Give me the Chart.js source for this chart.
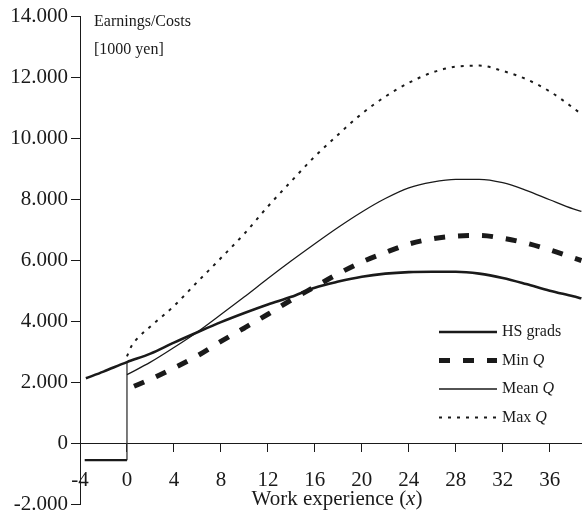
<!DOCTYPE html>
<html>
<head>
<meta charset="utf-8">
<script src="https://cdn.jsdelivr.net/npm/chart.js@4"></script>
<style>
  html, body { margin: 0; padding: 0; background: #fff; }
  #wrap { width: 582px; height: 520px; position: relative; }
</style>
</head>
<body>
<div id="wrap"><canvas id="chart"></canvas></div>
<script>
const SERIF = '"Liberation Serif", "Times New Roman", serif';
const INK = "#1a1a1a";

// Values (earnings in 1000 yen, x = years of work experience)
const hsYears = [-3.5, -2, 0, 2, 4, 6, 8, 10, 12, 14, 16, 18, 20, 22, 24, 26, 28, 30, 32, 34, 36, 38, 38.7];
const hsEarnings = [2130, 2350, 2660, 2940, 3300, 3640, 3970, 4270, 4550, 4800, 5100, 5300, 5460, 5560, 5610, 5620, 5620, 5560, 5420, 5220, 5000, 4820, 4750];

const minQYears = [0.6, 2, 4, 6, 8, 10, 12, 14, 16, 18, 20, 22, 24, 26, 28, 30, 32, 34, 36, 38, 38.7];
const minQ = [1870, 2100, 2470, 2870, 3340, 3780, 4230, 4700, 5130, 5560, 5940, 6250, 6530, 6700, 6790, 6810, 6720, 6560, 6340, 6080, 5990];

const meanQYears = [0, 2, 4, 6, 8, 10, 12, 14, 16, 18, 20, 22, 24, 26, 28, 30, 32, 34, 36, 38, 38.7];
const meanQ = [2250, 2660, 3140, 3650, 4220, 4800, 5400, 5980, 6540, 7080, 7580, 8020, 8370, 8560, 8650, 8650, 8540, 8290, 7980, 7680, 7600];

const maxQYears = [0, 0.4, 1, 2, 4, 6, 8, 10, 12, 14, 16, 18, 20, 22, 24, 26, 28, 30, 32, 34, 36, 38, 38.7];
const maxQ = [2850, 3200, 3480, 3830, 4500, 5290, 6070, 6870, 7760, 8590, 9400, 10120, 10800, 11360, 11810, 12150, 12340, 12375, 12200, 11930, 11530, 10990, 10780];

// schooling costs before entering the job market
const costYears = [-3.6, 0];
const costs = [-550, -550];

const yTicks = [-2000, 0, 2000, 4000, 6000, 8000, 10000, 12000, 14000];
const xTicks = [-4, 0, 4, 8, 12, 16, 20, 24, 28, 32, 36];

function toPoints(xs, ys) {
    return xs.map((x, i) => ({ x: x, y: ys[i] }));
}

// 14000 -> "14.000"
function formatThousands(v) {
    if (v === 0) return "0";
    const a = Math.abs(v);
    const rest = String(a % 1000).padStart(3, "0");
    return (v < 0 ? "-" : "") + Math.floor(a / 1000) + "." + rest;
}

const legendRows = [
    { ds: 0, text: "HS grads", italic: "" },
    { ds: 1, text: "Min ", italic: "Q" },
    { ds: 2, text: "Mean ", italic: "Q" },
    { ds: 3, text: "Max ", italic: "Q" }
];

const textPlugin = {
    id: "texts",
    afterDraw(chart) {
        const ctx = chart.ctx;
        ctx.save();
        ctx.fillStyle = INK;
        ctx.textBaseline = "middle";
        ctx.textAlign = "left";

        // axis caption at the top
        ctx.font = "16px " + SERIF;
        ctx.fillText("Earnings/Costs", 94, 22);
        ctx.fillText("[1000 yen]", 94, 50);

        // legend
        legendRows.forEach((row, i) => {
            const ds = chart.data.datasets[row.ds];
            const y = 332 + i * 28.5;
            ctx.save();
            ctx.strokeStyle = ds.borderColor;
            ctx.lineWidth = ds.borderWidth;
            ctx.setLineDash(ds.borderDash || []);
            ctx.beginPath();
            ctx.moveTo(439, y);
            ctx.lineTo(497, y);
            ctx.stroke();
            ctx.restore();
            ctx.font = "16px " + SERIF;
            ctx.fillText(row.text, 502, y);
            if (row.italic) {
                const w = ctx.measureText(row.text).width;
                ctx.font = "italic 16px " + SERIF;
                ctx.fillText(row.italic, 502 + w, y);
            }
        });

        // x axis title with italic x
        ctx.font = "21px " + SERIF;
        const p1 = "Work experience (", p3 = ")";
        const w1 = ctx.measureText(p1).width;
        const w3 = ctx.measureText(p3).width;
        ctx.font = "italic 21px " + SERIF;
        const w2 = ctx.measureText("x").width;
        let x = 337 - (w1 + w2 + w3) / 2;
        ctx.font = "21px " + SERIF;
        ctx.fillText(p1, x, 499);
        ctx.font = "italic 21px " + SERIF;
        ctx.fillText("x", x + w1, 499);
        ctx.font = "21px " + SERIF;
        ctx.fillText(p3, x + w1 + w2, 499);
        ctx.restore();
    }
};

const ctx = document.getElementById("chart").getContext("2d");
new Chart(ctx, {
    type: "line",
    data: {
        datasets: [
            {
                label: "HS grads",
                data: toPoints(hsYears, hsEarnings),
                borderColor: INK,
                borderWidth: 2.6,
                cubicInterpolationMode: "monotone"
            },
            {
                label: "Min Q",
                data: toPoints(minQYears, minQ),
                borderColor: INK,
                borderWidth: 5,
                borderDash: [11, 13],
                borderCapStyle: "butt",
                cubicInterpolationMode: "monotone"
            },
            {
                label: "Mean Q",
                data: toPoints(meanQYears, meanQ),
                borderColor: INK,
                borderWidth: 1.3,
                cubicInterpolationMode: "monotone"
            },
            {
                label: "Max Q",
                data: toPoints(maxQYears, maxQ),
                borderColor: INK,
                borderWidth: 2,
                borderDash: [3, 6],
                cubicInterpolationMode: "monotone"
            },
            {
                label: "costs",
                data: toPoints(costYears, costs),
                borderColor: INK,
                borderWidth: 2.4
            },
            {
                label: "entry",
                data: [{ x: 0, y: costs[1] }, { x: 0, y: hsEarnings[hsYears.indexOf(0)] }],
                borderColor: "#333",
                borderWidth: 1.3
            }
        ]
    },
    options: {
        responsive: true,
        maintainAspectRatio: false,
        animation: false,
        layout: { padding: { top: 16, right: 0, left: 0, bottom: 0 } },
        elements: { point: { radius: 0, hoverRadius: 0 } },
        plugins: {
            legend: { display: false },
            tooltip: { enabled: false }
        },
        scales: {
            x: {
                type: "linear",
                position: { y: 0 },
                min: -4,
                max: 38.75,
                afterFit: (scale) => { scale.height = 14; },
                afterBuildTicks: (scale) => { scale.ticks = xTicks.map(v => ({ value: v })); },
                grid: { drawOnChartArea: false, drawTicks: true, tickLength: 8, color: INK },
                border: { display: true, color: INK, width: 1 },
                ticks: {
                    color: INK,
                    padding: 17,
                    maxRotation: 0,
                    autoSkip: false,
                    font: { family: SERIF, size: 21 }
                }
            },
            y: {
                type: "linear",
                min: -2000,
                max: 14000,
                afterFit: (scale) => { scale.width = 80; },
                afterBuildTicks: (scale) => { scale.ticks = yTicks.map(v => ({ value: v })); },
                grid: { drawOnChartArea: false, drawTicks: true, tickLength: 9, color: INK },
                border: { display: true, color: INK, width: 1 },
                ticks: {
                    color: INK,
                    padding: 3,
                    font: { family: SERIF, size: 21 },
                    callback: (v) => formatThousands(v)
                }
            }
        }
    },
    plugins: [textPlugin]
});
</script>
</body>
</html>
